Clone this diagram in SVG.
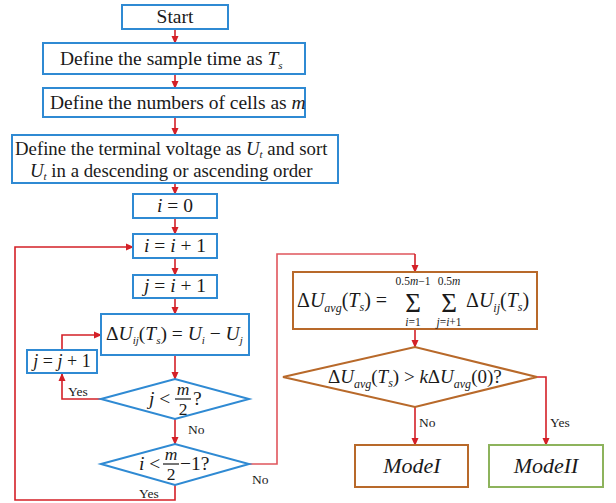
<svg xmlns="http://www.w3.org/2000/svg" width="616" height="503" viewBox="0 0 616 503">
<defs>
<marker id="ah" markerWidth="8" markerHeight="8" refX="7" refY="4" orient="auto" markerUnits="userSpaceOnUse">
<path d="M0,0.5 L8,4 L0,7.5 Z" fill="#d42027"/>
</marker>
<style>
.b{fill:#fff;stroke:#2f8ad3;stroke-width:2}
.br{fill:#fff;stroke:#b8692a;stroke-width:2}
.g{fill:#fff;stroke:#8db35c;stroke-width:2}
.c{fill:none;stroke:#d42027;stroke-width:1.6;marker-end:url(#ah)}
.cp{fill:none;stroke:#e0555c;stroke-width:1.6}
text{font-family:"Liberation Serif","Times New Roman",serif;fill:#1a1a1a}
.t{font-size:19.5px}
.m{font-size:20px;font-style:italic}
.s{font-size:11.5px;font-style:italic}
.l{font-size:13.5px}
.fr{stroke:#1a1a1a;stroke-width:1.2}
</style>
</defs>
<rect width="616" height="503" fill="#fff"/>
<g id="connectors">
<line class="c" x1="175" y1="30" x2="175" y2="43"/>
<line class="c" x1="175" y1="74" x2="175" y2="88"/>
<line class="c" x1="175" y1="117" x2="175" y2="135"/>
<line class="c" x1="175" y1="183" x2="175" y2="194"/>
<line class="c" x1="175" y1="218" x2="175" y2="234"/>
<line class="c" x1="175" y1="258" x2="175" y2="275"/>
<line class="c" x1="175" y1="298" x2="175" y2="314"/>
<line class="c" x1="175" y1="355" x2="175" y2="379"/>
<line class="c" x1="175" y1="419" x2="175" y2="444"/>
<polyline class="c" points="101,399 62,399 62,374"/>
<polyline class="c" points="62,350 62,335 101,335"/>
<polyline class="c" points="175,485 175,500 15,500 15,247 133,247"/>
<polyline class="cp" points="249,464 277,464 277,254 415,254"/>
<polyline class="c" points="415,254 415,272"/>
<line class="c" x1="415" y1="329" x2="415" y2="347"/>
<line class="c" x1="415" y1="407" x2="415" y2="445"/>
<polyline class="c" points="537,377 546,377 546,445"/>
<text class="l" x="68" y="396">Yes</text>
<text class="l" x="188" y="434">No</text>
<text class="l" x="252" y="484">No</text>
<text class="l" x="139" y="498">Yes</text>
<text class="l" x="419" y="427">No</text>
<text class="l" x="550" y="427">Yes</text>
</g>
<g id="start"><rect class="b" x="122" y="5" width="106" height="24"/><text class="t" x="175" y="23" text-anchor="middle">Start</text></g>
<g id="sample"><rect class="b" x="43" y="43" width="262" height="31"/><text class="t" x="60" y="65">Define the sample time as <tspan font-style="italic">T</tspan><tspan font-size="11" font-style="italic" dy="4">s</tspan></text></g>
<g id="cells"><rect class="b" x="43" y="88" width="262" height="29"/><text class="t" x="50" y="109">Define the numbers of cells as <tspan font-style="italic">m</tspan></text></g>
<g id="terminal"><rect class="b" x="12" y="135" width="326" height="48"/>
<text class="t" x="15" y="155" style="font-size:18.8px">Define the terminal voltage as <tspan font-style="italic">U</tspan><tspan font-size="11" font-style="italic" dy="3">t</tspan><tspan dy="-3"> and sort</tspan></text>
<text class="t" x="30" y="177" style="font-size:18.8px"><tspan font-style="italic">U</tspan><tspan font-size="11" font-style="italic" dy="3">t</tspan><tspan dy="-3"> in a descending or ascending order</tspan></text></g>
<g id="i0"><rect class="b" x="133" y="194" width="84" height="24"/><text class="t" x="175" y="212" text-anchor="middle"><tspan font-style="italic">i</tspan> = 0</text></g>
<g id="iinc"><rect class="b" x="133" y="234" width="84" height="24"/><text class="t" x="175" y="252" text-anchor="middle"><tspan font-style="italic">i</tspan> = <tspan font-style="italic">i</tspan> + 1</text></g>
<g id="jinit"><rect class="b" x="133" y="275" width="84" height="23"/><text class="t" x="175" y="292" text-anchor="middle"><tspan font-style="italic">j</tspan> = <tspan font-style="italic">i</tspan> + 1</text></g>
<g id="dU"><rect class="b" x="101" y="314" width="148" height="41"/><text class="t" x="106" y="340">Δ<tspan font-style="italic">U</tspan><tspan font-size="11" font-style="italic" dy="4">ij</tspan><tspan dy="-4">(</tspan><tspan font-style="italic">T</tspan><tspan font-size="11" font-style="italic" dy="4">s</tspan><tspan dy="-4">) = </tspan><tspan font-style="italic">U</tspan><tspan font-size="11" font-style="italic" dy="4">i</tspan><tspan dy="-4"> − </tspan><tspan font-style="italic">U</tspan><tspan font-size="11" font-style="italic" dy="4">j</tspan></text></g>
<g id="jinc"><rect class="b" x="27" y="350" width="70" height="23"/><text class="t" x="62" y="367" text-anchor="middle" style="font-size:18px"><tspan font-style="italic">j</tspan> = <tspan font-style="italic">j</tspan> + 1</text></g>
<g id="dj"><polygon class="b" points="101,399 175,379 249,399 175,419"/>
<text class="t" x="149" y="405"><tspan font-style="italic">j</tspan> &lt;</text>
<text class="t" x="183" y="395" text-anchor="middle" style="font-size:17.5px;font-style:italic">m</text>
<line class="fr" x1="175" y1="399" x2="191" y2="399"/>
<text class="t" x="183" y="415" text-anchor="middle" style="font-size:17.5px">2</text>
<text class="t" x="193" y="405">?</text></g>
<g id="di"><polygon class="b" points="101,464 175,444 249,464 175,485"/>
<text class="t" x="139" y="470"><tspan font-style="italic">i</tspan> &lt;</text>
<text class="t" x="171" y="460" text-anchor="middle" style="font-size:17.5px;font-style:italic">m</text>
<line class="fr" x1="163" y1="464" x2="179" y2="464"/>
<text class="t" x="171" y="480" text-anchor="middle" style="font-size:17.5px">2</text>
<text class="t" x="180" y="470">−1?</text></g>
<g id="avg"><rect class="br" x="293" y="272" width="244" height="57"/>
<text class="m" x="297" y="307"><tspan font-style="normal">Δ</tspan>U<tspan font-size="12" dy="5">avg</tspan><tspan font-style="normal" dy="-5">(</tspan>T<tspan font-size="12" dy="4">s</tspan><tspan font-style="normal" dy="-4">) =</tspan></text>
<text x="413" y="312" text-anchor="middle" font-size="27">Σ</text>
<text class="s" x="413" y="285" text-anchor="middle" style="font-style:normal">0.5<tspan font-style="italic">m</tspan>−1</text>
<text class="s" x="413" y="326" text-anchor="middle"><tspan>i</tspan><tspan font-style="normal">=1</tspan></text>
<text x="449" y="312" text-anchor="middle" font-size="27">Σ</text>
<text class="s" x="449" y="285" text-anchor="middle" style="font-style:normal">0.5<tspan font-style="italic">m</tspan></text>
<text class="s" x="449" y="326" text-anchor="middle">j<tspan font-style="normal">=</tspan>i<tspan font-style="normal">+1</tspan></text>
<text class="m" x="466" y="307"><tspan font-style="normal">Δ</tspan>U<tspan font-size="12" dy="5">ij</tspan><tspan font-style="normal" dy="-5">(</tspan>T<tspan font-size="12" dy="4">s</tspan><tspan font-style="normal" dy="-4">)</tspan></text></g>
<g id="dk"><polygon class="br" points="283,377 415,347 537,377 415,407"/>
<text class="m" x="328" y="383" style="font-size:19px"><tspan font-style="normal">Δ</tspan>U<tspan font-size="12" dy="5">avg</tspan><tspan font-style="normal" dy="-5">(</tspan>T<tspan font-size="12" dy="4">s</tspan><tspan font-style="normal" dy="-4">) &gt; </tspan>k<tspan font-style="normal">Δ</tspan>U<tspan font-size="12" dy="5">avg</tspan><tspan font-style="normal" dy="-5">(0)?</tspan></text></g>
<g id="mode1"><rect class="br" x="355" y="445" width="113" height="42"/><text class="m" x="412" y="473" text-anchor="middle" style="font-size:22px">ModeI</text></g>
<g id="mode2"><rect class="g" x="489" y="445" width="114" height="42"/><text class="m" x="546" y="473" text-anchor="middle" style="font-size:22px">ModeII</text></g>
</svg>
